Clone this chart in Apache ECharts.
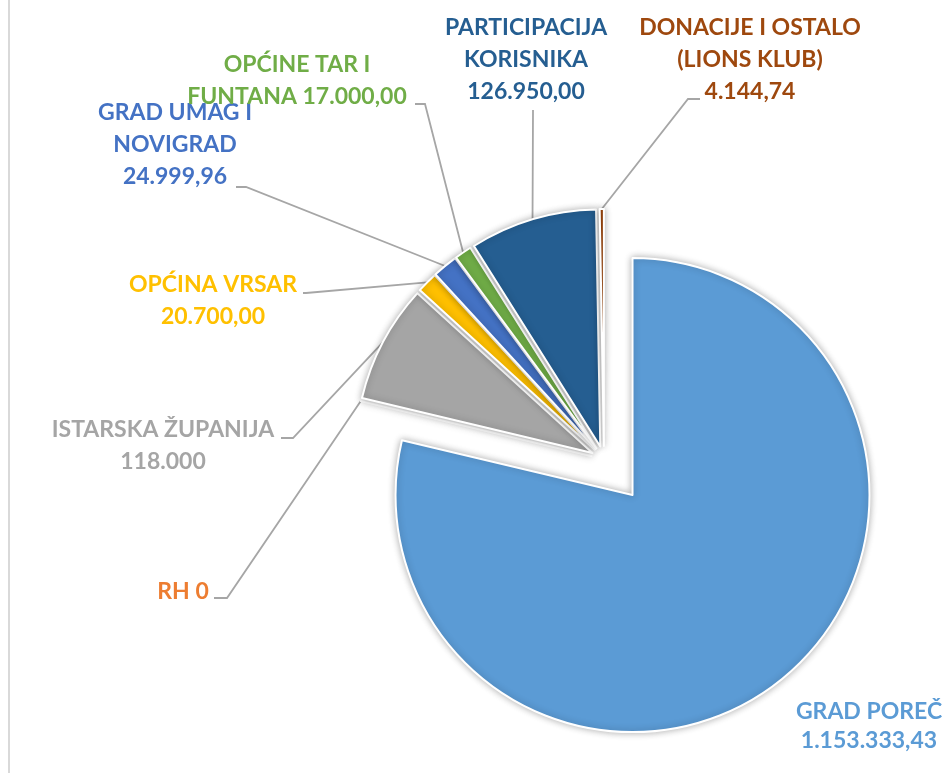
<!DOCTYPE html>
<html>
<head>
<meta charset="utf-8">
<script src="https://cdn.jsdelivr.net/npm/echarts@6/dist/echarts.min.js"></script>
<style>
html,body{margin:0;padding:0;background:#ffffff;}
#chart{width:943px;height:773px;}
</style>
</head>
<body>
<div id="chart"></div>
<script>
// ---- data ----
const categories = ['GRAD POREČ', 'RH', 'ISTARSKA ŽUPANIJA', 'OPĆINA VRSAR', 'GRAD UMAG I NOVIGRAD', 'OPĆINE TAR I FUNTANA', 'PARTICIPACIJA KORISNIKA', 'DONACIJE I OSTALO (LIONS KLUB)'];
const values = [1153333.43, 0, 118000, 20700, 24999.96, 17000, 126950, 4144.74];
const valueLabels = ['1.153.333,43', '0', '118.000', '20.700,00', '24.999,96', '17.000,00', '126.950,00', '4.144,74'];
// label text with wrapping as in the original ({v} = value label)
const labelTemplates = [
  'GRAD POREČ\n{v}',
  'RH {v}',
  'ISTARSKA ŽUPANIJA\n{v}',
  'OPĆINA VRSAR\n{v}',
  'GRAD UMAG I\nNOVIGRAD\n{v}',
  'OPĆINE TAR I\nFUNTANA {v}',
  'PARTICIPACIJA\nKORISNIKA\n{v}',
  'DONACIJE I OSTALO\n(LIONS KLUB)\n{v}'
];

// ---- styles / layout ----
const colors = ['#5B9BD5', '#ED7D31', '#A5A5A5', '#FFC000', '#4472C4', '#70AD47', '#255E91', '#9E480E'];
const pieCenter = [604, 459];
const pieRadius = 237;
const explode = [46, 13, 13, 13, 13, 13, 13, 13];
const labelPos = [
  { x: 869, y: 697, lh: 29 },
  { x: 183, y: 576, elbow: [227, 598], end: [214, 598] },
  { x: 163, y: 414, elbow: [293, 438], end: [281, 438] },
  { x: 213, y: 269, elbow: [306, 293], end: [303, 293] },
  { x: 175, y: 97,  elbow: [246, 187], end: [236, 187] },
  { x: 297, y: 49,  elbow: [425, 104], end: [415, 104] },
  { x: 526, y: 12,  elbow: [533, 112], end: [533, 110] },
  { x: 750, y: 12,  elbow: [688, 99],  end: [700, 99] }
];

const total = values.reduce((a, b) => a + b, 0);
let cum = 0;
const mids = values.map(v => { const m = (cum + v / 2) / total * 2 * Math.PI; cum += v; return m; });

const series = values.map((_, i) => {
  const c = [pieCenter[0] + explode[i] * Math.sin(mids[i]), pieCenter[1] - explode[i] * Math.cos(mids[i])];
  return {
    type: 'pie',
    center: c,
    radius: pieRadius,
    startAngle: 90,
    clockwise: true,
    avoidLabelOverlap: false,
    animation: false,
    silent: true,
    emphasis: { disabled: true },
    data: values.map((v, j) => {
      if (j !== i) {
        return {
          value: v, name: categories[j],
          itemStyle: { color: 'rgba(0,0,0,0)', borderWidth: 0, shadowBlur: 0 },
          label: { show: false }, labelLine: { show: false }
        };
      }
      return {
        value: v, name: categories[j],
        itemStyle: { color: colors[j], borderColor: '#ffffff', borderWidth: 2, shadowBlur: 7, shadowColor: 'rgba(0,0,0,0.3)' },
        label: {
          show: true,
          position: 'outside',
          formatter: labelTemplates[j].replace('{v}', valueLabels[j]),
          color: colors[j],
          fontFamily: 'Lato',
          fontWeight: 'bold',
          fontSize: 23,
          lineHeight: labelPos[j].lh || 32,
          align: 'center'
        },
        labelLine: { show: j !== 0, lineStyle: { color: '#A6A6A6', width: 1.8 } }
      };
    }),
    labelLayout: function (params) {
      const k = params.dataIndex;
      if (params.seriesIndex !== k) return {};
      const p = labelPos[k];
      const res = { x: p.x, y: p.y, align: 'center', verticalAlign: 'top' };
      if (p.end && params.labelLinePoints && params.labelLinePoints.length) {
        res.labelLinePoints = [params.labelLinePoints[0], p.elbow, p.end];
      }
      return res;
    }
  };
});

const chart = echarts.init(document.getElementById('chart'), null, { renderer: 'canvas' });
chart.setOption({
  backgroundColor: '#ffffff',
  animation: false,
  graphic: [{
    type: 'line', shape: { x1: 9, y1: 0, x2: 9, y2: 773 },
    style: { stroke: '#D9D9D9', lineWidth: 2 }, silent: true
  }],
  series: series
});
</script>
</body>
</html>
